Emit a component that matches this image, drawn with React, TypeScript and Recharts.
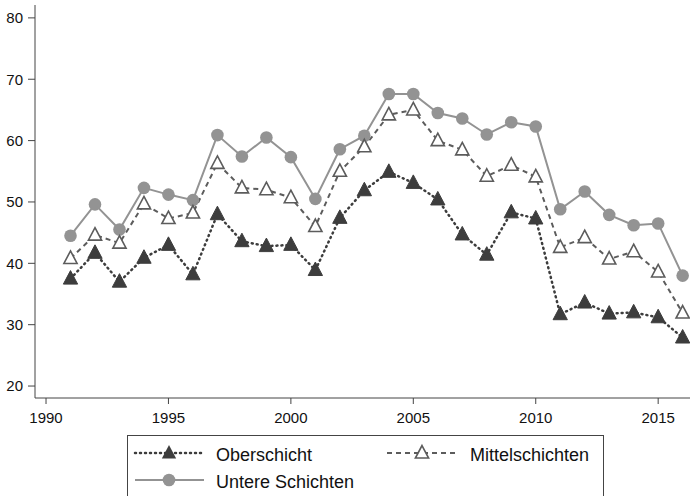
import React from 'react';
import { LineChart, Line, XAxis, YAxis } from 'recharts';

const years = [1991, 1992, 1993, 1994, 1995, 1996, 1997, 1998, 1999, 2000, 2001, 2002, 2003, 2004, 2005, 2006, 2007, 2008, 2009, 2010, 2011, 2012, 2013, 2014, 2015, 2016];
const oberschicht = [37.5, 41.7, 37.0, 40.9, 43.0, 38.2, 48.0, 43.6, 42.8, 43.0, 38.9, 47.4, 51.9, 54.9, 53.1, 50.4, 44.7, 41.4, 48.3, 47.3, 31.7, 33.6, 31.8, 32.0, 31.2, 27.9];
const mittelschichten = [40.8, 44.6, 43.3, 49.7, 47.3, 48.2, 56.3, 52.3, 52.0, 50.7, 46.0, 55.0, 59.0, 64.2, 65.0, 60.0, 58.5, 54.2, 56.0, 54.1, 42.6, 44.2, 40.7, 41.9, 38.6, 31.9];
const untereSchichten = [44.5, 49.6, 45.5, 52.3, 51.2, 50.3, 60.9, 57.4, 60.5, 57.3, 50.5, 58.6, 60.8, 67.6, 67.6, 64.5, 63.6, 61.0, 63.0, 62.3, 48.8, 51.7, 47.9, 46.2, 46.5, 38.0];
const xTicks = [1990, 1995, 2000, 2005, 2010, 2015];
const yTicks = [20, 30, 40, 50, 60, 70, 80];

const data = years.map((year, i) => ({
    year,
    ober: oberschicht[i],
    mittel: mittelschichten[i],
    untere: untereSchichten[i],
}));

const DARK = '#3d3d3d';
const MID = '#5c5c5c';
const LIGHT = '#939393';

const triPath = (cx: number, cy: number, s: number) =>
    `M${cx},${cy - s * 0.62} L${cx + s * 0.55},${cy + s * 0.42} L${cx - s * 0.55},${cy + s * 0.42} Z`;

const FilledTriangle = (props: any) => {
    const { cx, cy, index } = props;
    if (cx == null || cy == null) return null;
    return <path key={`ft-${index}`} d={triPath(cx, cy, 13)} fill={DARK} stroke={DARK} strokeWidth={1} />;
};

const OpenTriangle = (props: any) => {
    const { cx, cy, index } = props;
    if (cx == null || cy == null) return null;
    return <path key={`ot-${index}`} d={triPath(cx, cy, 12)} fill="#fff" stroke={MID} strokeWidth={1.6} />;
};

const font = 'Liberation Sans, Arial, sans-serif';

// legend drawn by hand, like the Stata box under the plot
const LegendBox = () => (
    <svg width={477} height={62} style={{ position: 'absolute', left: 127, top: 435 }}>
        <rect x={0.5} y={0.5} width={476} height={80} fill="#fff" stroke="#444" strokeWidth={1} />
        <line x1={8} x2={77} y1={18} y2={18} stroke={DARK} strokeWidth={2.5} strokeDasharray="1 4" strokeLinecap="round" />
        <path d={triPath(42, 18, 13)} fill={DARK} />
        <text x={89} y={26} fontSize={18} fontFamily={font} fill="#111">Oberschicht</text>
        <line x1={260} x2={331} y1={18} y2={18} stroke={MID} strokeWidth={2} strokeDasharray="5 4" />
        <path d={triPath(295, 18, 12)} fill="#fff" stroke={MID} strokeWidth={1.6} />
        <text x={343} y={26} fontSize={18} fontFamily={font} fill="#111">Mittelschichten</text>
        <line x1={8} x2={77} y1={45} y2={45} stroke={LIGHT} strokeWidth={2} />
        <circle cx={42} cy={45} r={6.3} fill={LIGHT} />
        <text x={89} y={52.5} fontSize={18} fontFamily={font} fill="#111">Untere Schichten</text>
    </svg>
);

export default function App() {
    return (
        <div style={{ position: 'absolute', left: 0, top: 0, width: 691, height: 496, overflow: 'hidden', background: '#fff' }}>
            <LineChart width={691} height={496} data={data} margin={{ top: 5, right: 1, left: 0, bottom: 68 }}>
                <XAxis
                    dataKey="year"
                    type="number"
                    domain={[1989.55, 2016.3]}
                    ticks={xTicks}
                    allowDataOverflow
                    height={30}
                    stroke="#444"
                    tickSize={6}
                    tickMargin={8}
                    tick={{ fontSize: 15, fill: '#111', fontFamily: font }}
                />
                <YAxis
                    type="number"
                    domain={[18.05, 82.1]}
                    ticks={yTicks}
                    allowDataOverflow
                    width={35}
                    stroke="#444"
                    tickSize={7}
                    tickMargin={5}
                    tick={{ fontSize: 15, fill: '#111', fontFamily: font }}
                />
                <Line
                    dataKey="untere"
                    stroke={LIGHT}
                    strokeWidth={2}
                    dot={{ r: 6.3, fill: LIGHT, stroke: LIGHT, strokeWidth: 0 }}
                    activeDot={false}
                    isAnimationActive={false}
                />
                <Line
                    dataKey="mittel"
                    stroke={MID}
                    strokeWidth={2}
                    strokeDasharray="5 4"
                    dot={OpenTriangle}
                    activeDot={false}
                    isAnimationActive={false}
                />
                <Line
                    dataKey="ober"
                    stroke={DARK}
                    strokeWidth={2.5}
                    strokeDasharray="1 4"
                    strokeLinecap="round"
                    dot={FilledTriangle}
                    activeDot={false}
                    isAnimationActive={false}
                />
            </LineChart>
            <LegendBox />
        </div>
    );
}
